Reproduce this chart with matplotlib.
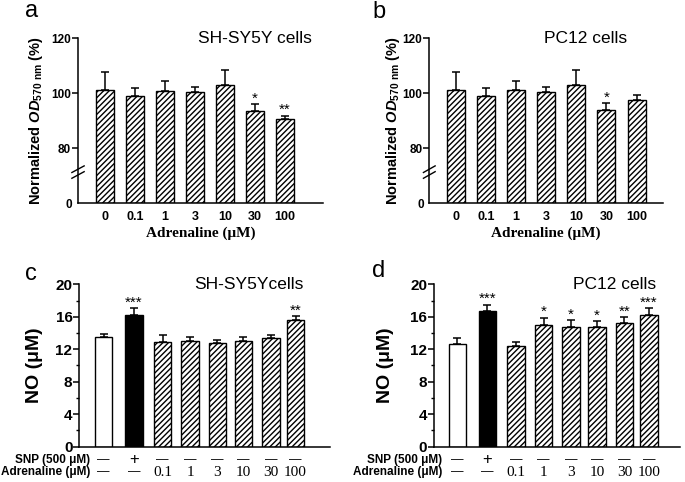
import numpy as np
import matplotlib
matplotlib.use("Agg")
from matplotlib import pyplot as plt

# ---- data ----
conc_labels = ["0", "0.1", "1", "3", "10", "30", "100"]

sh_od_mean = [101.1, 98.8, 100.9, 100.3, 103.0, 93.6, 90.4]
sh_od_err = [6.7, 2.9, 3.4, 1.8, 5.2, 2.5, 1.4]
sh_od_sig = ["", "", "", "", "", "*", "**"]

pc_od_mean = [101.2, 98.8, 101.1, 100.4, 103.0, 93.7, 97.6]
pc_od_err = [6.6, 2.9, 3.3, 1.7, 5.2, 2.5, 1.6]
pc_od_sig = ["", "", "", "", "", "*", ""]

snp_row = ["—", "+", "—", "—", "—", "—", "—", "—"]
adr_row = ["—", "—", "0.1", "1", "3", "10", "30", "100"]

sh_no_mean = [13.5, 16.2, 12.9, 13.05, 12.75, 13.05, 13.4, 15.6]
sh_no_err = [0.4, 0.9, 0.8, 0.45, 0.35, 0.45, 0.35, 0.5]
sh_no_sig = ["", "***", "", "", "", "", "", "**"]

pc_no_mean = [12.7, 16.75, 12.35, 14.98, 14.73, 14.8, 15.2, 16.17]
pc_no_err = [0.7, 0.75, 0.6, 0.92, 0.82, 0.7, 0.77, 0.93]
pc_no_sig = ["", "***", "", "*", "*", "*", "**", "***"]

plt.rcParams["font.family"] = ["Liberation Sans", "DejaVu Sans"]
plt.rcParams["mathtext.fontset"] = "custom"
plt.rcParams["mathtext.rm"] = "Liberation Sans:bold"
plt.rcParams["mathtext.bf"] = "Liberation Sans:bold"
plt.rcParams["mathtext.bfit"] = "Liberation Sans:italic:bold"
plt.rcParams["mathtext.it"] = "Liberation Sans:italic:bold"
plt.rcParams["hatch.linewidth"] = 1.0

HATCH = "//////"


def fwd(v):
    v = np.asarray(v, dtype=float)
    return np.where(v >= 80, v - 60, v / 4.0)


def inv(y):
    y = np.asarray(y, dtype=float)
    return np.where(y >= 20, y + 60, y * 4.0)


def add_stars(ax, x, tops, sig):
    for xi, t, s in zip(x, tops, sig):
        if s:
            ax.annotate(s, (xi, t), xytext=(0, 1), textcoords="offset points",
                        ha="center", va="baseline", fontsize=11)


def style_axes(ax):
    for side in ["top", "right"]:
        ax.spines[side].set_visible(False)
    for side in ["left", "bottom"]:
        ax.spines[side].set_linewidth(1.1)


def od_panel(ax, mean, err, sig, xlim, cell, label_x):
    x = np.arange(len(mean))
    ax.set_yscale("function", functions=(fwd, inv))
    ax.bar(x, mean, width=0.6, color="white", edgecolor="black",
           hatch=HATCH, linewidth=1.0, zorder=2)
    ax.errorbar(x, mean, yerr=[np.zeros(len(err)), err], fmt="none",
                ecolor="black", elinewidth=1.1, capsize=3, capthick=1.1, zorder=1)
    tops = np.array(mean) + np.array(err)
    add_stars(ax, x, tops, sig)
    ax.set_ylim(0, 120)
    ax.set_xlim(*xlim)
    ax.set_yticks([80, 100, 120])
    ax.set_yticklabels(["80", "100", "120"], fontweight="bold", fontsize=8.5)
    ax.set_yticks([0], minor=True)
    ax.set_yticklabels(["0"], minor=True, fontweight="bold", fontsize=8.5)
    ax.tick_params(axis="y", which="major", length=4, width=1.1, pad=1)
    ax.tick_params(axis="y", which="minor", length=0, pad=4)
    ax.set_xticks(x)
    ax.set_xticklabels(conc_labels, fontweight="bold", fontsize=9)
    ax.tick_params(axis="x", length=0, pad=6)
    ax.set_xlabel("Adrenaline (μM)", family="Liberation Serif",
                  fontweight="bold", fontsize=11, labelpad=2)
    ax.set_ylabel(r"Normalized $\mathbfit{OD}_{\mathbf{570\ nm}}$ (%)",
                  fontweight="bold", fontsize=10.5)
    ax.yaxis.set_label_coords(label_x, 0.5)
    style_axes(ax)
    # axis break marks
    for dy in (0.0, 0.035):
        ax.plot([-0.025, 0.025], [0.15 + dy, 0.19 + dy], color="black",
                lw=1.0, transform=ax.transAxes, clip_on=False)
    ax.text(0.49, 1.0, cell, transform=ax.transAxes, fontsize=12.5,
            ha="left", va="center")


def no_panel(ax, xpos, mean, err, sig, xlim, cell, row_x, label_x, cell_x):
    colors = ["white", "black"] + ["white"] * (len(mean) - 2)
    hatches = ["", ""] + [HATCH] * (len(mean) - 2)
    bars = ax.bar(xpos, mean, width=0.64, color=colors, edgecolor="black",
                  linewidth=1.0, zorder=2)
    for b, h in zip(bars, hatches):
        b.set_hatch(h)
    ax.errorbar(xpos, mean, yerr=[np.zeros(len(err)), err], fmt="none",
                ecolor="black", elinewidth=1.1, capsize=3, capthick=1.1, zorder=1)
    tops = np.array(mean) + np.array(err)
    add_stars(ax, xpos, tops, sig)
    ax.set_ylim(0, 20)
    ax.set_xlim(*xlim)
    ax.set_yticks(np.arange(0, 21, 4))
    ax.set_yticks(np.arange(2, 20, 4), minor=True)
    for lab in ax.get_yticklabels():
        lab.set_fontweight("bold")
        lab.set_fontsize(11)
    ax.tick_params(axis="y", which="major", length=4, width=1.1, pad=1)
    ax.tick_params(axis="y", which="minor", length=2, width=1.0)
    ax.set_xticks([])
    ax.set_ylabel("NO (μM)", fontweight="bold", fontsize=14)
    ax.yaxis.set_label_coords(label_x, 0.5)
    style_axes(ax)
    trans = ax.get_xaxis_transform()
    ax.text(row_x, -0.082, "SNP (500 μM)", transform=ax.transAxes,
            ha="right", va="center", fontweight="bold", fontsize=8.5)
    ax.text(row_x, -0.158, "Adrenaline (μM)", transform=ax.transAxes,
            ha="right", va="center", fontweight="bold", fontsize=8.5)
    for xi, s in zip(xpos, snp_row):
        ax.text(xi, -0.082, s, transform=trans, ha="center", va="center",
                fontsize=9 if s == "—" else 12)
    for xi, s in zip(xpos, adr_row):
        if s == "—":
            ax.text(xi, -0.158, s, transform=trans, ha="center", va="center",
                    fontsize=9)
        else:
            ax.text(xi, -0.158, s, transform=trans, ha="center", va="center",
                    fontsize=11, family="Liberation Serif")
    ax.text(cell_x, 1.0, cell, transform=ax.transAxes, fontsize=12.5,
            ha="left", va="center")


xpos_no = [0, 1.1, 2.15, 3.15, 4.15, 5.1, 6.1, 7.0]

fig = plt.figure(figsize=(6.85, 4.82), dpi=100)
ax_a = fig.add_axes([0.1139, 0.5788, 0.3577, 0.3423])
ax_b = fig.add_axes([0.6267, 0.5788, 0.3412, 0.3423])
ax_c = fig.add_axes([0.1158, 0.0733, 0.3660, 0.3369])
ax_d = fig.add_axes([0.6340, 0.0733, 0.3587, 0.3369])

od_panel(ax_a, sh_od_mean, sh_od_err, sh_od_sig, (-0.9, 7.27),
         "SH-SY5Y cells", -0.135)
od_panel(ax_b, pc_od_mean, pc_od_err, pc_od_sig, (-0.89, 6.88),
         "PC12 cells", -0.115)
no_panel(ax_c, xpos_no, sh_no_mean, sh_no_err, sh_no_sig, (-0.89, 8.26),
         "SH-SY5Ycells", 0.045, -0.145, 0.46)
no_panel(ax_d, xpos_no, pc_no_mean, pc_no_err, pc_no_sig, (-0.84, 8.13),
         "PC12 cells", 0.032, -0.165, 0.565)

# panel letters
for letter, px, py in [("a", 32, 11), ("b", 379, 12), ("c", 31, 274), ("d", 379, 271)]:
    fig.text(px / 685, 1 - py / 482, letter, fontsize=17, ha="center", va="center")

fig.savefig("out.png", dpi=100)
